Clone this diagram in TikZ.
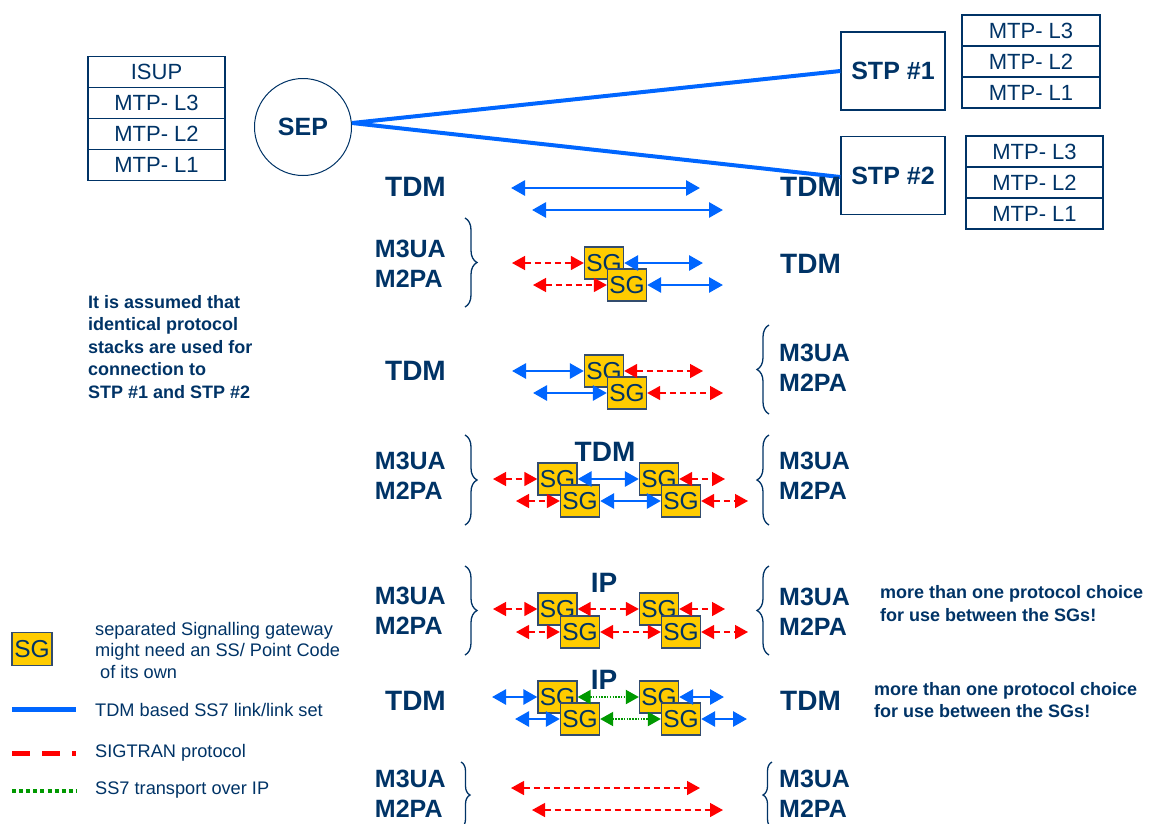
\documentclass[tikz,border=0pt]{standalone}
\usepackage{fontspec}
\setmainfont{Liberation Sans}
\usetikzlibrary{positioning,arrows.meta,decorations.pathreplacing}

\definecolor{navy}{RGB}{0,51,102}
\definecolor{linkblue}{RGB}{0,102,255}
\definecolor{sigred}{RGB}{255,0,0}
\definecolor{ipgreen}{RGB}{0,153,0}
\definecolor{sgyellow}{RGB}{255,204,0}
\definecolor{sgedge}{RGB}{51,76,110}

\tikzset{
    layer box/.style={draw=navy, line width=1.3pt, minimum width=137pt, minimum height=31pt,
        inner sep=0pt, outer sep=0pt, text=navy, font=\fontsize{22}{24}\selectfont},
    stp box/.style={draw=navy, line width=1.3pt, minimum width=104pt, minimum height=78pt,
        inner sep=0pt, text=navy, font=\bfseries\fontsize{25}{28}\selectfont},
    sg box/.style={draw=sgedge, fill=sgyellow, line width=1.3pt, minimum width=39pt,
        minimum height=32pt, inner sep=0pt, text=navy, font=\fontsize{24.5}{26}\selectfont},
    big label/.style={text=navy, inner sep=0pt, font=\bfseries\fontsize{28}{30}\selectfont},
    pair label/.style={text=navy, inner sep=0pt, align=left, font=\bfseries\fontsize{25}{30.5}\selectfont},
    note text/.style={text=navy, inner sep=0pt, align=left, anchor=west, font=\bfseries\fontsize{18}{22.5}\selectfont},
    key text/.style={text=navy, inner sep=0pt, align=left, anchor=west, font=\fontsize{18.2}{21.5}\selectfont},
    tdm link/.style={draw=linkblue, line width=2.8pt, {Triangle[length=14pt,width=15pt]}-{Triangle[length=14pt,width=15pt]}},
    sig link/.style={draw=sigred, line width=1.4pt, dash pattern=on 6pt off 4pt, {Triangle[length=13pt,width=14pt]}-{Triangle[length=13pt,width=14pt]}},
    ip link/.style={draw=ipgreen, line width=2pt, dash pattern=on 1.5pt off 1.3pt, {Triangle[length=13pt,width=14pt]}-{Triangle[length=13pt,width=14pt]}},
    stack brace/.style={draw=navy, line width=1.3pt, decorate, decoration={brace, amplitude=12pt}},
}

\begin{document}
\begin{tikzpicture}[x=1pt,y=-1pt]
    \useasboundingbox (0,0) rectangle (1151,823);
    \clip (0,0) rectangle (1151,823);
    %\draw[lightgray] (0,0) grid[step=50] (1151,823);

    % signalling end point with its stack
    \node[layer box] (sep isup) at (156.5,72) {ISUP};
    \node[layer box, below=0pt of sep isup] (sep l3) {MTP- L3};
    \node[layer box, below=0pt of sep l3] (sep l2) {MTP- L2};
    \node[layer box, below=0pt of sep l2] (sep l1) {MTP- L1};
    \node[circle, draw=navy, line width=1pt, minimum size=97pt, inner sep=0pt, text=navy,
        font=\bfseries\fontsize{25}{28}\selectfont] (sep) at (303,127) {SEP};

    % the two STPs
    \node[stp box] (stp1) at (893,71) {STP \#1};
    \node[stp box] (stp2) at (893,175.5) {STP \#2};
    \node[layer box, minimum width=138pt] (stp1 l3) at (1031,30.5) {MTP- L3};
    \node[layer box, minimum width=138pt, below=0pt of stp1 l3] (stp1 l2) {MTP- L2};
    \node[layer box, minimum width=138pt, below=0pt of stp1 l2] (stp1 l1) {MTP- L1};
    \node[layer box] (stp2 l3) at (1034.5,151.5) {MTP- L3};
    \node[layer box, below=0pt of stp2 l3] (stp2 l2) {MTP- L2};
    \node[layer box, below=0pt of stp2 l2] (stp2 l1) {MTP- L1};
    \coordinate (sep out) at ([yshift=4pt]sep.east);
    \draw[linkblue, line width=4pt] (sep out) -- (stp1.west);
    \draw[linkblue, line width=4pt] (sep out) -- ([yshift=-1.5pt]stp2.west);

    \node[note text] (assumed) at (88,347) {It is assumed that\\identical protocol\\stacks are used for\\connection to\\STP \#1 and STP \#2};

    % TDM - TDM
    \node[big label, anchor=east] (r1 left) at (446,187) {TDM};
    \node[big label, anchor=west] (r1 right) at (780,187) {TDM};
    \coordinate (r1 w1) at (511,188);
    \coordinate (r1 e1) at (700,188);
    \coordinate (r1 w2) at (532,210);
    \coordinate (r1 e2) at (723,210);
    \draw[tdm link] (r1 w1) -- (r1 e1);
    \draw[tdm link] (r1 w2) -- (r1 e2);

    % SIGTRAN - TDM
    \node[pair label, anchor=east] (r2 left) at (446,264) {M3UA\\M2PA};
    \node[big label, anchor=west] (r2 right) at (780,264) {TDM};
    \draw[stack brace] (465,218) -- (465,307);
    \node[sg box] (sg2 a) at (604,263) {SG};
    \node[sg box] (sg2 b) at (627,285) {SG};
    \coordinate (r2 w1) at (512,263);
    \coordinate (r2 e1) at (703,263);
    \coordinate (r2 w2) at (533,285);
    \coordinate (r2 e2) at (723,285);
    \draw[sig link] (r2 w1) -- (sg2 a);
    \draw[sig link] (r2 w2) -- (sg2 b);
    \draw[tdm link] (sg2 a) -- (r2 e1);
    \draw[tdm link] (sg2 b) -- (r2 e2);

    % TDM - SIGTRAN
    \node[big label, anchor=east] (r3 left) at (446,371) {TDM};
    \node[pair label, anchor=west] (r3 right) at (779,368) {M3UA\\M2PA};
    \draw[stack brace] (769,414) -- (769,325);
    \node[sg box] (sg3 a) at (604,371) {SG};
    \node[sg box] (sg3 b) at (627,393) {SG};
    \coordinate (r3 w1) at (512,371);
    \coordinate (r3 e1) at (703,371);
    \coordinate (r3 w2) at (533,393);
    \coordinate (r3 e2) at (723,393);
    \draw[tdm link] (r3 w1) -- (sg3 a);
    \draw[tdm link] (r3 w2) -- (sg3 b);
    \draw[sig link] (sg3 a) -- (r3 e1);
    \draw[sig link] (sg3 b) -- (r3 e2);

    % SIGTRAN - TDM - SIGTRAN
    \node[pair label, anchor=east] (r4 left) at (446,476) {M3UA\\M2PA};
    \node[pair label, anchor=west] (r4 right) at (779,476) {M3UA\\M2PA};
    \draw[stack brace] (465,435) -- (465,525);
    \draw[stack brace] (769,525) -- (769,435);
    \node[big label] (r4 mid) at (605,452) {TDM};
    \node[sg box] (sg4 a) at (557.5,479) {SG};
    \node[sg box] (sg4 b) at (580,501) {SG};
    \node[sg box] (sg4 c) at (659,479) {SG};
    \node[sg box] (sg4 d) at (681,501) {SG};
    \coordinate (r4 w1) at (493,479);
    \coordinate (r4 e1) at (725,479);
    \coordinate (r4 w2) at (516,501);
    \coordinate (r4 e2) at (748,501);
    \draw[sig link] (r4 w1) -- (sg4 a);
    \draw[sig link] (r4 w2) -- (sg4 b);
    \draw[tdm link] (sg4 a) -- (sg4 c);
    \draw[tdm link] (sg4 b) -- (sg4 d);
    \draw[sig link] (sg4 c) -- (r4 e1);
    \draw[sig link] (sg4 d) -- (r4 e2);

    % SIGTRAN - IP - SIGTRAN
    \node[pair label, anchor=east] (r5 left) at (446,611) {M3UA\\M2PA};
    \node[pair label, anchor=west] (r5 right) at (779,612) {M3UA\\M2PA};
    \draw[stack brace] (465,566) -- (465,655);
    \draw[stack brace] (769,655) -- (769,566);
    \node[big label] (r5 mid) at (604,583) {IP};
    \node[sg box] (sg5 a) at (557.5,609) {SG};
    \node[sg box] (sg5 b) at (580,632) {SG};
    \node[sg box] (sg5 c) at (659,609) {SG};
    \node[sg box] (sg5 d) at (681,632) {SG};
    \coordinate (r5 w1) at (493,609);
    \coordinate (r5 e1) at (725,609);
    \coordinate (r5 w2) at (516,632);
    \coordinate (r5 e2) at (748,632);
    \draw[sig link] (r5 w1) -- (sg5 a);
    \draw[sig link] (r5 w2) -- (sg5 b);
    \draw[sig link] (sg5 a) -- (sg5 c);
    \draw[sig link] (sg5 b) -- (sg5 d);
    \draw[sig link] (sg5 c) -- (r5 e1);
    \draw[sig link] (sg5 d) -- (r5 e2);
    \node[note text] (r5 note) at (880,603.5) {more than one protocol choice\\for use between the SGs!};

    % TDM - IP - TDM
    \node[big label, anchor=east] (r6 left) at (446,701) {TDM};
    \node[big label, anchor=west] (r6 right) at (780,701) {TDM};
    \node[big label] (r6 mid) at (604,680) {IP};
    \node[sg box] (sg6 a) at (557.5,697) {SG};
    \node[sg box] (sg6 b) at (580,719) {SG};
    \node[sg box] (sg6 c) at (659,697) {SG};
    \node[sg box] (sg6 d) at (681,719) {SG};
    \coordinate (r6 w1) at (492,697);
    \coordinate (r6 e1) at (724,697);
    \coordinate (r6 w2) at (515,719);
    \coordinate (r6 e2) at (747,719);
    \draw[tdm link] (r6 w1) -- (sg6 a);
    \draw[tdm link] (r6 w2) -- (sg6 b);
    \draw[ip link] (sg6 a) -- (sg6 c);
    \draw[ip link] (sg6 b) -- (sg6 d);
    \draw[tdm link] (sg6 c) -- (r6 e1);
    \draw[tdm link] (sg6 d) -- (r6 e2);
    \node[note text] (r6 note) at (874,700) {more than one protocol choice\\for use between the SGs!};

    % SIGTRAN - SIGTRAN
    \node[pair label, anchor=east] (r7 left) at (446,794) {M3UA\\M2PA};
    \node[pair label, anchor=west] (r7 right) at (779,794) {M3UA\\M2PA};
    \draw[stack brace, decoration={brace, amplitude=9pt}] (461,762) -- (461,828);
    \draw[stack brace, decoration={brace, amplitude=9pt}] (772,828) -- (772,762);
    \coordinate (r7 w1) at (511,788);
    \coordinate (r7 e1) at (700,788);
    \coordinate (r7 w2) at (532,810);
    \coordinate (r7 e2) at (723,810);
    \draw[sig link] (r7 w1) -- (r7 e1);
    \draw[sig link] (r7 w2) -- (r7 e2);

    % legend
    \node[sg box, minimum width=40pt, minimum height=33pt] (key sg) at (32,649) {SG};
    \node[key text] (key sg text) at (95,650) {separated Signalling gateway\\might need an SS/ Point Code\\\hspace{5pt}of its own};
    \coordinate (key tdm w) at (12,709);
    \coordinate (key tdm e) at (76,709);
    \draw[linkblue, line width=5pt] (key tdm w) -- (key tdm e);
    \node[key text] (key tdm) at (95,710) {TDM based SS7 link/link set};
    \coordinate (key sig w) at (12,753);
    \coordinate (key sig e) at (76,753);
    \draw[sigred, line width=5pt, dash pattern=on 18pt off 12pt] (key sig w) -- (key sig e);
    \node[key text] (key sig) at (95,753) {SIGTRAN protocol};
    \coordinate (key ip w) at (12,791);
    \coordinate (key ip e) at (76,791);
    \draw[ipgreen, line width=4pt, dash pattern=on 4pt off 3.1pt] (key ip w) -- (key ip e);
    \node[key text] (key ip) at (95,790) {SS7 transport over IP};
\end{tikzpicture}
\end{document}
